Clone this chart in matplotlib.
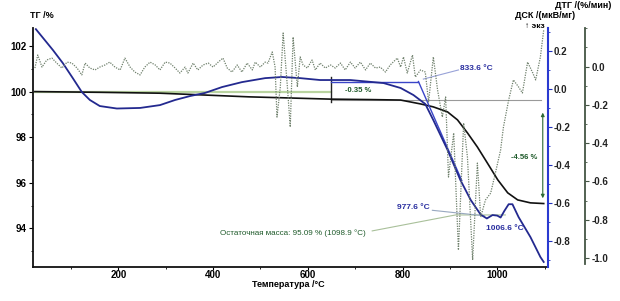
import matplotlib
matplotlib.use("Agg")
import matplotlib.pyplot as plt
from matplotlib.ticker import MultipleLocator

plt.rcParams['font.family'] = ['Liberation Sans', 'DejaVu Sans']
plt.rcParams['font.weight'] = 'bold'

# ---------------- data ----------------
tg_T = [24, 161, 288, 394, 476, 563, 648, 732, 796, 838, 865, 895, 916, 937, 958, 979, 1001, 1022, 1043, 1070, 1098]
tg_V = [100.0, 99.97, 99.93, 99.84, 99.77, 99.72, 99.67, 99.65, 99.63, 99.46, 99.33, 99.11, 98.76, 98.19, 97.57, 96.87, 96.13, 95.56, 95.25, 95.12, 95.09]

dsc_T = [26, 45, 62, 83, 104, 123, 140, 161, 197, 246, 288, 320, 352, 383, 419, 461, 510, 546, 584, 626, 690, 760, 796,
         823, 848, 865, 895, 922, 944, 965, 978, 990, 1000, 1007, 1015, 1024, 1032, 1045, 1070, 1091, 1098]
dsc_V = [0.317, 0.259, 0.207, 0.138, 0.059, -0.014, -0.056, -0.088, -0.101, -0.098, -0.083, -0.056, -0.035, -0.019, 0.012,
         0.038, 0.059, 0.065, 0.059, 0.049, 0.049, 0.033, 0.007, -0.030, -0.077, -0.162, -0.319, -0.477, -0.583, -0.660,
         -0.680, -0.662, -0.665, -0.675, -0.640, -0.605, -0.605, -0.673, -0.778, -0.883, -0.909]

dtg_T = [24, 30, 39, 49, 60, 70, 81, 92, 102, 113, 123, 130, 140, 151, 161, 172, 182, 193, 204, 214, 225, 235, 246, 256,
         267, 278, 288, 299, 309, 320, 330, 341, 347, 358, 368, 379, 390, 400, 411, 421, 430, 440, 451, 461, 472, 483,
         489, 500, 510, 516, 525, 531, 535, 542, 548, 557, 563, 569, 578, 584, 590, 599, 609, 616, 626, 637, 648, 658,
         669, 679, 690, 700, 711, 722, 732, 743, 753, 764, 774, 789, 796, 802, 810, 821, 827, 838, 848, 855, 865, 874,
         884, 891, 897, 908, 918, 929, 937, 948, 958, 965, 975, 986, 996, 1007, 1013, 1024, 1034, 1045, 1053, 1064,
         1075, 1081, 1091, 1098]
dtg_V = [-0.008, 0.060, -0.003, 0.034, 0.044, 0.018, -0.008, 0.023, 0.018, -0.008, -0.044, 0.018, -0.008, -0.018,
         -0.003, 0.008, 0.023, -0.003, -0.018, 0.044, -0.003, -0.029, -0.044, -0.003, 0.023, 0.008, -0.018, 0.023,
         0.018, -0.008, -0.034, -0.003, -0.034, 0.018, -0.018, 0.008, 0.018, -0.003, 0.023, 0.044, -0.008, -0.029,
         0.008, -0.029, 0.018, -0.018, 0.023, -0.003, 0.023, 0.018, 0.076, -0.003, -0.264, -0.107, 0.175, -0.107,
         -0.316, 0.154, -0.107, 0.050, 0.008, -0.008, 0.034, -0.018, 0.018, -0.008, 0.008, -0.008, 0.018, -0.018,
         0.023, -0.008, 0.023, -0.018, 0.018, -0.008, -0.003, -0.029, 0.008, 0.044, -0.003, 0.050, -0.034, 0.060,
         -0.055, -0.018, -0.029, -0.185, 0.050, -0.123, -0.264, -0.159, -0.577, -0.347, -0.958, -0.295, -0.473,
         -1.010, -0.504, -0.786, -0.697, -0.661, -0.556, -0.436, -0.316, -0.175, -0.070, -0.107, -0.138, 0.023,
         -0.034, -0.070, 0.050, 0.191]

x_ticks = [200, 400, 600, 800, 1000]
tg_ticks = [94, 96, 98, 100, 102]
dsc_ticks = [0.2, 0.0, -0.2, -0.4, -0.6, -0.8]
dtg_ticks = [0.0, -0.2, -0.4, -0.6, -0.8, -1.0]

step1_T = [24, 650]           # -0.35 % step
step1_level = 100.0
step_end_level = 99.65
arrow_T = 1096
arrow_top, arrow_bottom = 99.2, 95.2
onset_T = 833.6
onset_base = 0.041
onset_start_T = 648
tangent_end = (925, -0.48)

# ---------------- figure ----------------
W, H = 620, 301
fig = plt.figure(figsize=(W / 100, H / 100), dpi=100)
ax = fig.add_axes([33 / W, 1 - 266.7 / H, (547.5 - 33) / W, (266.7 - 28) / H])
ax2 = ax.twinx()
ax3 = ax.twinx()

tick_kw = dict(labelsize=7, length=3, width=0.8, pad=1.5)

# TG axis
ax.set_xlim(20, 1106)
ax.set_ylim(92.32, 102.79)
ax.set_xticks(x_ticks)
ax.xaxis.set_minor_locator(MultipleLocator(100))
ax.set_yticks(tg_ticks)
ax.yaxis.set_minor_locator(MultipleLocator(1))
ax.tick_params(axis='y', which='major', **tick_kw)
ax.tick_params(axis='x', which='major', labelsize=7, length=2, width=0.8, pad=0.3)
ax.tick_params(axis='both', which='minor', length=1.5, width=0.6)
for s in ['top', 'right']:
    ax.spines[s].set_visible(False)
for s in ['left', 'bottom']:
    ax.spines[s].set_linewidth(1.3)
    ax.spines[s].set_color('#111111')

# DSC axis
ax2.set_ylim(-0.934, 0.323)
ax2.set_yticks(dsc_ticks)
ax2.set_yticklabels([f"{v:.1f}" for v in dsc_ticks])
ax2.yaxis.set_minor_locator(MultipleLocator(0.1))
ax2.tick_params(axis='y', which='major', colors='#2233bb', labelcolor='#222222', **tick_kw)
ax2.tick_params(axis='y', which='minor', length=1.5, width=0.6, colors='#2233bb')
for s in ['top', 'left', 'bottom']:
    ax2.spines[s].set_visible(False)
ax2.spines['right'].set_color('#2a3ad0')
ax2.spines['right'].set_linewidth(1.5)

# DTG axis
ax3.set_ylim(-1.045, 0.201)
ax3.set_yticks(dtg_ticks)
ax3.set_yticklabels([f"{v:.1f}" for v in dtg_ticks])
ax3.yaxis.set_minor_locator(MultipleLocator(0.1))
ax3.tick_params(axis='y', which='major', colors='#445544', labelcolor='#222222', **tick_kw)
ax3.tick_params(axis='y', which='minor', length=1.5, width=0.6, colors='#445544')
for s in ['top', 'left', 'bottom']:
    ax3.spines[s].set_visible(False)
ax3.spines['right'].set_position(('outward', 27))
ax3.spines['right'].set_color('#445544')
ax3.spines['right'].set_linewidth(1.3)
ax3.spines['right'].set_bounds(-1.03, 0.201)

# curves
ax3.plot(dtg_T, dtg_V, color='#6f806c', lw=0.9, ls=(0, (1, 1)), zorder=2)

ax.plot(step1_T, [step1_level, step1_level], color='#b9d3a0', lw=1.6, zorder=2)
ax.plot([step1_T[1], arrow_T - 4], [step_end_level, step_end_level], color='#9a9a9a', lw=0.8, zorder=2)
ax.plot([step1_T[1], step1_T[1]], [100.64, 99.55], color='#222222', lw=1.0, zorder=4)
ax.plot(tg_T, tg_V, color='#111111', lw=1.2, zorder=5)
ax.annotate('', xy=(arrow_T, arrow_bottom), xytext=(arrow_T, arrow_top),
            arrowprops=dict(arrowstyle='<|-|>', color='#2d6a34', lw=0.8, mutation_scale=5), zorder=5)

ax2.plot([onset_start_T, onset_T], [onset_base, onset_base], color='#3a45c8', lw=1.0, zorder=3)
ax2.plot([onset_T, tangent_end[0]], [onset_base, tangent_end[1]], color='#3a45c8', lw=1.0, zorder=3)
ax2.plot(dsc_T, dsc_V, color='#23298f', lw=1.3, zorder=6)

# pointer lines
ax2.plot([918, 844], [0.102, 0.054], color='#98a2d8', lw=0.8, zorder=3)
ax2.plot([863, 973], [-0.637, -0.666], color='#98a8c0', lw=0.8, zorder=3)
ax.plot([736, 912, 1017], [93.89, 94.59, 94.59], color='#a9c09a', lw=0.8, zorder=3)

# annotation texts
ax.text(679, 100.03, '-0.35 %', color='#1e5a2a', fontsize=5.5, va='center', ha='left', zorder=7)
ax.text(1028, 97.13, '-4.56 %', color='#1e5a2a', fontsize=5.5, va='center', ha='left', zorder=7)
ax.text(415, 93.8, 'Остаточная масса: 95.09 % (1098.9 °C)', color='#1e5a2a', fontsize=5.8,
        va='center', ha='left', fontweight='normal', zorder=7)
ax2.text(922, 0.112, '833.6 °C', color='#2a2fa0', fontsize=6, va='center', ha='left', zorder=7)
ax2.text(789, -0.62, '977.6 °C', color='#2a2fa0', fontsize=6, va='center', ha='left', zorder=7)
ax2.text(977, -0.735, '1006.6 °C', color='#2a2fa0', fontsize=6, va='center', ha='left', zorder=7)

# axis titles
fig.text(30 / W, 1 - 15 / H, 'ТГ /%', fontsize=6.5, ha='left', va='center')
fig.text(555 / W, 1 - 6 / H, 'ДТГ /(%/мин)', fontsize=6.5, ha='left', va='center')
fig.text(515 / W, 1 - 16 / H, 'ДСК /(мкВ/мг)', fontsize=6.5, ha='left', va='center')
fig.text(525 / W, 1 - 26 / H, '↑ экз', fontsize=6, ha='left', va='center')
fig.text(288 / W, 1 - 284.5 / H, 'Температура /°C', fontsize=6.5, ha='center', va='center')

fig.savefig('out.png', dpi=100)
